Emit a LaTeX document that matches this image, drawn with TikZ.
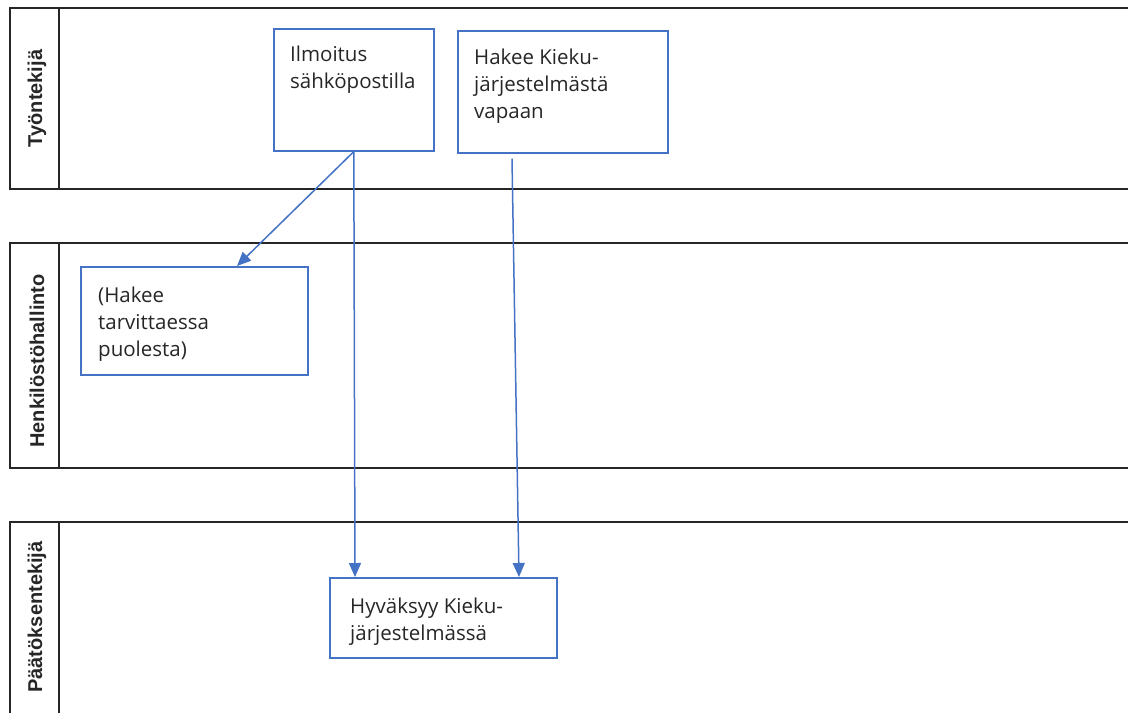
\documentclass[tikz,border=0pt]{standalone}
\usepackage{fontspec}
\setmainfont{Open Sans}
\newfontfamily\lanefont{Liberation Sans}
\usetikzlibrary{positioning}
\usetikzlibrary{arrows.meta}

\definecolor{flowblue}{HTML}{4472C4}
\definecolor{lanegray}{HTML}{262626}

\tikzset{
  lane/.style={draw=lanegray, line width=2pt},
  act/.style={draw=flowblue, line width=1.6pt, anchor=north west, inner sep=0pt},
  acttext/.style={anchor=north west, inner sep=0pt, align=left, text=lanegray, font=\fontsize{20.5}{27}\selectfont},
  lanelabel/.style={rotate=90, inner sep=0pt, text=lanegray, font=\lanefont\bfseries\fontsize{20}{24}\selectfont},
  flow/.style={draw=flowblue, line width=1.5pt, -{Triangle[length=14pt,width=12pt]}}
}

\begin{document}
\begin{tikzpicture}[x=1pt, y=-1pt]
  \useasboundingbox (0,0) rectangle (1128,713);

  \draw[lane] (1128,8) -- (10,8) -- (10,189) -- (1128,189);
  \draw[lane] (59,8) -- (59,189);
  \node[lanelabel] (tyo) at (37,98.5) {Työntekijä};

  \draw[lane] (1128,243) -- (10,243) -- (10,468) -- (1128,468);
  \draw[lane] (59,243) -- (59,468);
  \node[lanelabel] (hen) at (37,361) {Henkilöstöhallinto};

  \draw[lane] (10,713) -- (10,522) -- (1128,522);
  \draw[lane] (59,522) -- (59,713);
  \node[lanelabel] (paa) at (37,617) {Päätöksentekijä};

  \node[act, minimum width=160, minimum height=122] (ilm) at (273,28) {};
  \node[acttext] (ilmtext) at ([xshift=17,yshift=-17.5]ilm.north west) {Ilmoitus\\sähköpostilla};

  \node[act, minimum width=210, minimum height=122] (hae) at (457,30) {};
  \node[acttext] (haetext) at ([xshift=17,yshift=-18.5]hae.north west) {Hakee Kieku-\\järjestelmästä\\vapaan};

  \node[act, minimum width=227, minimum height=108] (puol) at (80,266) {};
  \node[acttext] (puoltext) at ([xshift=18,yshift=-20.5]puol.north west) {(Hakee\\tarvittaessa\\puolesta)};

  \node[act, minimum width=227, minimum height=80] (hyv) at (329,577) {};
  \node[acttext] (hyvtext) at ([xshift=21,yshift=-20.5]hyv.north west) {Hyväksyy Kieku-\\järjestelmässä};

  \draw[flow] (ilm.south) -- ([xshift=157]puol.north west);
  \draw[flow] (ilm.south) -- ([xshift=26]hyv.north west);
  \draw[flow] ([xshift=55,yshift=-5]hae.south west) -- ([xshift=190]hyv.north west);
\end{tikzpicture}
\end{document}
